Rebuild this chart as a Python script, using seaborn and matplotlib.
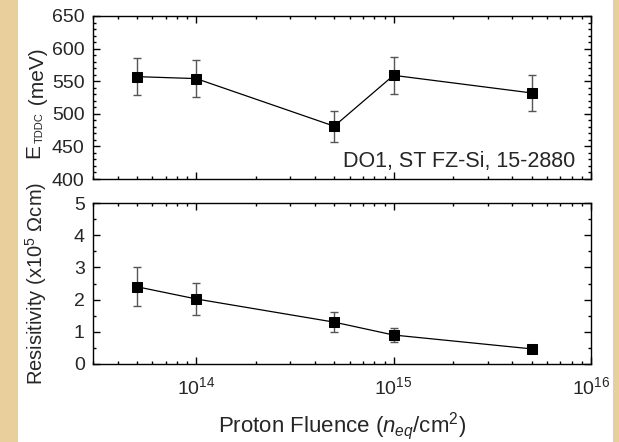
import numpy as np
import pandas as pd
import matplotlib
matplotlib.use("Agg")
import matplotlib.pyplot as plt
import matplotlib.ticker as mticker
from matplotlib.patches import Rectangle
import seaborn as sns

# data
fluence = [5e13, 1e14, 5e14, 1e15, 5e15]
e_tddc = [557, 554, 481, 559, 532]
e_tddc_err = [28, 28, 24, 28, 27]
resist = [2.40, 2.02, 1.30, 0.90, 0.47]
resist_err = [0.60, 0.50, 0.32, 0.22, 0.05]

df = pd.DataFrame({"fluence": fluence, "E": e_tddc, "E_err": e_tddc_err,
                   "R": resist, "R_err": resist_err})

sns.set_theme(style="ticks")
plt.rcParams["font.family"] = ["Liberation Sans", "DejaVu Sans"]
plt.rcParams["mathtext.fontset"] = "custom"
plt.rcParams["mathtext.rm"] = "Liberation Sans"
plt.rcParams["mathtext.it"] = "Liberation Sans:italic"
plt.rcParams["mathtext.default"] = "regular"
plt.rcParams["xtick.labelsize"] = 14
plt.rcParams["ytick.labelsize"] = 14

W, H = 619, 442
fig = plt.figure(figsize=(W / 100, H / 100), dpi=100)
fig.patch.set_facecolor("#e8cf9b")
# white page area between the parchment strips
fig.patches.append(Rectangle((18 / W, 0), (613 - 18) / W, 1, transform=fig.transFigure,
                             facecolor="white", edgecolor="none", zorder=-10))

ax1 = fig.add_axes([93 / W, 1 - 179 / H, (591 - 93) / W, (179 - 16) / H])
ax2 = fig.add_axes([93 / W, 1 - 364 / H, (591 - 93) / W, (364 - 203) / H])


def draw(ax, col, errcol):
    ax.errorbar(df["fluence"], df[col], yerr=df[errcol], fmt="none", ecolor="#555555",
                elinewidth=1.0, capsize=3, capthick=1.0, zorder=2)
    sns.lineplot(data=df, x="fluence", y=col, ax=ax, color="black", linewidth=0.9,
                 marker="s", markersize=7.5, markeredgecolor="black", zorder=3)
    ax.set_xscale("log")
    ax.set_xlim(3e13, 1e16)
    ax.set_facecolor("white")
    ax.xaxis.set_minor_locator(mticker.LogLocator(base=10, subs=np.arange(2, 10)))
    ax.tick_params(which="both", direction="in", top=True, right=True,
                   color="black", width=1.0)
    ax.tick_params(which="major", length=5)
    ax.tick_params(which="minor", length=2.5)
    ax.tick_params(axis="y", pad=6)
    ax.tick_params(axis="x", pad=9)
    for s in ax.spines.values():
        s.set_linewidth(1.0)
        s.set_color("black")


draw(ax1, "E", "E_err")
draw(ax2, "R", "R_err")

ax1.set_ylim(400, 650)
ax1.yaxis.set_major_locator(mticker.MultipleLocator(50))
ax1.yaxis.set_minor_locator(mticker.MultipleLocator(10))
ax1.tick_params(axis="x", which="both", labelbottom=False)
ax1.set_xlabel("")
ax1.set_ylabel("")
# y label of the upper panel built from pieces (small subscript as in the original)
lab_kw = dict(rotation=90, rotation_mode="anchor", ha="left", va="baseline")
fig.text(39 / W, 1 - 158 / H, "E", fontsize=15, **lab_kw)
fig.text(43 / W, 1 - 143 / H, "TDDC", fontsize=8, **lab_kw)
fig.text(44 / W, 1 - 111 / H, " (meV)", fontsize=15, **lab_kw)
ax1.text(0.968, 0.075, "DO1, ST FZ-Si, 15-2880", transform=ax1.transAxes,
         ha="right", va="baseline", fontsize=15.5)

ax2.set_ylim(0, 5)
ax2.yaxis.set_major_locator(mticker.MultipleLocator(1))
ax2.yaxis.set_minor_locator(mticker.MultipleLocator(0.5))
ax2.set_ylabel(r"Resisitivity (x10$^5$ Ωcm)", fontsize=14.5)
ax2.yaxis.set_label_coords(-0.088, 0.5)
ax2.set_xlabel(r"Proton Fluence ($\mathit{n_{eq}}$/cm$^2$)", fontsize=16, labelpad=8)

fig.savefig("out.png", dpi=100, facecolor=fig.get_facecolor())
